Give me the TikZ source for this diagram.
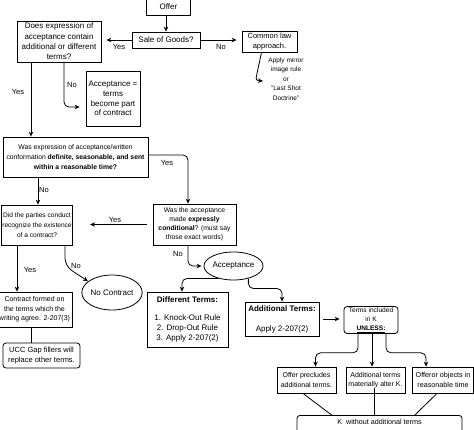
\documentclass[tikz,border=0pt]{standalone}
\usepackage{fontspec}
\setmainfont{Liberation Sans}
\usetikzlibrary{arrows.meta,shapes.geometric}
\newcommand\fsz[2]{\fontsize{#1}{#2}\selectfont}
\begin{document}
\begin{tikzpicture}[x=1pt,y=-1pt,
  box/.style={draw, fill=white, line width=0.8pt, align=center, inner sep=1pt},
  rbox/.style={box, rounded corners=3pt},
  ell/.style={draw, fill=white, ellipse, line width=0.8pt, inner sep=0pt, align=center},
  arr/.style={-{Stealth[length=5pt,width=4.5pt]}, line width=0.8pt, rounded corners=5pt},
  ln/.style={line width=0.8pt},
  lbl/.style={inner sep=0pt, font={\fsz{7.5}{9}}},
]
\useasboundingbox (0,0) rectangle (474,429);

% nodes
\node[box, minimum width=44pt, minimum height=17pt, font={\fsz{8}{10}}] (offer) at (168.5,6.5) {Offer};
\node[box, minimum width=68pt, minimum height=16pt, font={\fsz{8}{10}}] (sale) at (166,40) {Sale of Goods?};
\node[box, minimum width=55pt, minimum height=21pt, font={\fsz{7.5}{10}}] (common) at (269.5,41.5) {Common law\\approach.};
\node[inner sep=1pt, align=center, font={\fsz{6.5}{9.5}}] (mirror) at (286,79) {Apply mirror\\image rule\\or\\"Last Shot\\Doctrine"};
\node[box, minimum width=84pt, minimum height=41pt, font={\fsz{8}{10.3}}] (q1) at (59,41.5) {Does expression of\\acceptance contain\\additional or different\\terms?};
\node[box, minimum width=54pt, minimum height=55pt, font={\fsz{8}{9.7}}] (accterms) at (113,98.5) {Acceptance =\\terms\\become part\\of contract};
\node[box, minimum width=145pt, minimum height=40pt, font={\fsz{6.8}{10}}] (box3) at (75.5,157) {Was expression of acceptance/written\\conformation \textbf{definite, seasonable, and sent}\\\textbf{within a reasonable time?}};
\node[box, minimum width=66pt, minimum height=40pt, font={\fsz{6.6}{10}}] (didpart) at (37,225) {Did the parties conduct\\recognize the existence\\of a contract?};
\node[box, minimum width=83pt, minimum height=41pt, font={\fsz{6.8}{9}}] (expcond) at (194.5,224.5) {Was the acceptance\\made \textbf{expressly}\\\textbf{conditional}? (must say\\those exact words)};
\node[ell, minimum width=54pt, minimum height=35pt, font={\fsz{8}{10}}] (nocontract) at (112,292.5) {No Contract};
\node[ell, minimum width=47pt, minimum height=28pt, font={\fsz{8}{10}}] (acceptance) at (233.5,266) {Acceptance};
\node[box, minimum width=75pt, minimum height=35pt, font={\fsz{7}{9.5}}] (contract) at (34.5,309.5) {Contract formed on\\the terms which the\\writing agree. 2-207(3)};
\node[rbox, minimum width=77pt, minimum height=25pt, font={\fsz{7.5}{9.3}}] (ucc) at (41.5,355.5) {UCC Gap fillers will\\replace other terms.};
\node[box, minimum width=81pt, minimum height=55pt, font={\fsz{8}{10}}] (diffterms) at (187.5,319.5) {\textbf{Different Terms:}\\[8pt]1. Knock-Out Rule\\2. Drop-Out Rule\\3. Apply 2-207(2)};
\node[box, minimum width=74pt, minimum height=34pt, font={\fsz{8}{10}}] (addterms) at (282,319) {\textbf{Additional Terms:}\\[10pt]Apply 2-207(2)};
\node[rbox, minimum width=54pt, minimum height=26pt, font={\fsz{6.6}{9}}] (termsinc) at (371,320) {Terms included\\in K\\\underline{\textbf{UNLESS:}}};
\node[box, minimum width=59pt, minimum height=26pt, font={\fsz{7}{9.3}}] (offerprec) at (306.5,380) {Offer precludes\\additional terms.};
\node[box, minimum width=59pt, minimum height=26pt, font={\fsz{7}{9.3}}] (addmat) at (375.5,380) {Additional terms\\materially alter K.};
\node[box, minimum width=61pt, minimum height=26pt, font={\fsz{7.2}{9.3}}] (offeror) at (443,380) {Offeror objects in\\reasonable time};
\node[rbox, anchor=north, minimum width=165pt, inner ysep=3.5pt, text height=6pt, text depth=20pt, font={\fsz{7.2}{9}}] (kbox) at (379.5,415) {K~ without additional terms};

% connectors
\draw[arr] (sale.north |- offer.south) -- (sale.north);
\draw[arr, shorten >=5pt] (sale.west) -- (q1.east |- sale.west);
\node[lbl] (l1) at (119,47) {Yes};
\draw[arr, shorten >=5pt] (sale.east) -- (common.west |- sale.east);
\node[lbl] (l2) at (221,47) {No};
\coordinate (mirrorin) at (263,81);
\draw[arr, rounded corners=3pt] ([xshift=-8pt]common.south) -- (255.5,80.5) -- (mirrorin);

\draw[arr] ([xshift=-28pt]q1.south) -- ([xshift=-28pt]q1.south |- box3.north);
\node[lbl] (l3) at (18,92) {Yes};
\draw[arr] ([xshift=5pt]q1.south) |- ([xshift=-6pt,yshift=-8.5pt]accterms.west);
\node[lbl] (l4) at (72,85) {No};

\draw[arr] ([yshift=2pt]box3.east) -| ([xshift=-6.5pt]expcond.north);
\node[lbl] (l5) at (167,163) {Yes};
\draw[arr] ([xshift=-37.5pt]box3.south) -- ([xshift=-37.5pt]box3.south |- didpart.north);
\node[lbl] (l6) at (44,190) {No};

\draw[arr, shorten <=6pt, shorten >=17pt] (expcond.west) -- (expcond.west -| didpart.east);
\node[lbl] (l7) at (115,220) {Yes};

\draw[arr] ([xshift=-20pt]didpart.south) -- ([xshift=-20pt]didpart.south |- contract.north);
\node[lbl] (l8) at (30,270) {Yes};
\draw[arr, rounded corners=8pt] ([xshift=28pt]didpart.south) -- (65,266) -- (nocontract.155);
\node[lbl] (l9) at (76,266) {No};

\draw[ln] ([xshift=-3.5pt]contract.south) -- ([xshift=-3.5pt]contract.south |- ucc.north);

\draw[arr] ([xshift=-6.5pt]expcond.south) |- ([xshift=-2pt]acceptance.west);
\node[lbl] (l10) at (178,254) {No};

\draw[arr] (acceptance.220) -| ([xshift=-5.5pt]diffterms.north);
\draw[arr] (acceptance.-40) -- ++(0,10) -| (addterms.north);

\draw[arr, shorten <=4pt, shorten >=4pt] (addterms.east) -- (addterms.east -| termsinc.west);

\draw[arr] ([xshift=-13pt]termsinc.south) -- ++(0,19) -| ([xshift=9pt]offerprec.north);
\draw[arr] ([xshift=1pt]termsinc.south) -- ([xshift=1pt]termsinc.south |- addmat.north);
\draw[arr] ([xshift=15pt]termsinc.south) -- ++(0,19) -| ([xshift=-17pt]offeror.north);

\draw[ln] ([xshift=-3.5pt]offerprec.south) -- ([xshift=35pt]kbox.north west);
\draw[ln] ([xshift=-1.5pt,yshift=-8pt]addmat.center) -- ([xshift=-1.5pt]addmat.center |- kbox.north);
\draw[ln] ([xshift=-6pt]offeror.south) -- ([xshift=-47.5pt]kbox.north east);
\end{tikzpicture}
\end{document}
